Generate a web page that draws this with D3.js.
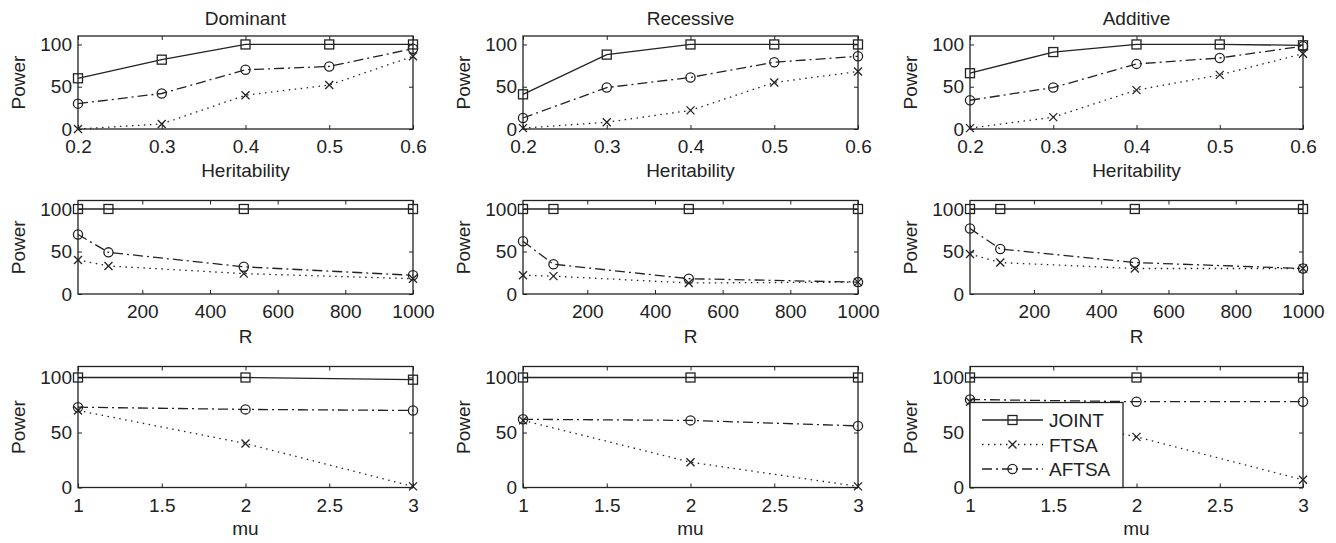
<!DOCTYPE html>
<html>
<head>
<meta charset="utf-8">
<script src="https://cdn.jsdelivr.net/npm/d3@7"></script>
<style>
  body { margin: 0; background: #fff; }
  svg { display: block; }
  text { font-family: "Liberation Sans", Arial, sans-serif; fill: #222; }
  .frame { fill: none; stroke: #222; stroke-width: 1.3; }
  .tick line { stroke: #222; }
</style>
</head>
<body>
<svg id="chart" width="1336" height="543"></svg>
<script>
// ---- data ----
var models = ["Dominant", "Recessive", "Additive"];
var seriesNames = ["JOINT", "FTSA", "AFTSA"];

var heritability = [0.2, 0.3, 0.4, 0.5, 0.6];
var heritTicks = [0.2, 0.3, 0.4, 0.5, 0.6];
var heritJoint = [[60, 82, 100, 100, 100], [41, 88, 100, 100, 100], [66, 91, 100, 100, 99]];
var heritFtsa  = [[0, 6, 40, 52, 86], [1, 8, 22, 55, 68], [1, 14, 46, 64, 89]];
var heritAftsa = [[30, 42, 70, 74, 95], [13, 49, 61, 79, 86], [34, 49, 77, 84, 98]];

var rValues = [10, 100, 500, 1000];
var rTicks = [200, 400, 600, 800, 1000];
var rJoint = [[100, 100, 100, 100], [100, 100, 100, 100], [100, 100, 100, 100]];
var rFtsa  = [[40, 33, 24, 18], [22, 21, 13, 14], [47, 37, 30, 30]];
var rAftsa = [[70, 49, 32, 22], [62, 35, 18, 14], [77, 53, 37, 30]];

var muValues = [1, 2, 3];
var muTicks = [1, 1.5, 2, 2.5, 3];
var muJoint = [[100, 100, 98], [100, 100, 100], [100, 100, 100]];
var muFtsa  = [[70, 40, 1], [61, 23, 1], [78, 46, 7]];
var muAftsa = [[73, 71, 70], [62, 61, 56], [80, 78, 78]];

var powerTicks = [0, 50, 100];

// ---- layout ----
var colLeft = [78, 523, 970];
var colWidth = [335, 335, 333];
var rowTop = [36, 200.5, 366.5];
var rowBottom = [129, 294, 487.5];

var rows = [
  { xs: heritability, ticks: heritTicks, dom: [0.2, 0.6], label: "Heritability", joint: heritJoint, ftsa: heritFtsa, aftsa: heritAftsa },
  { xs: rValues, ticks: rTicks, dom: [10, 1000], label: "R", joint: rJoint, ftsa: rFtsa, aftsa: rAftsa },
  { xs: muValues, ticks: muTicks, dom: [1, 3], label: "mu", joint: muJoint, ftsa: muFtsa, aftsa: muAftsa }
];

var styles = {
  JOINT: { dash: null, marker: "square" },
  FTSA:  { dash: "1.5,4.5", marker: "cross" },
  AFTSA: { dash: "10,4,2,4", marker: "circle" }
};

var svg = d3.select("#chart");
var fs = 19;

function drawMarker(g, type, x, y) {
  if (type === "square") {
    g.append("rect").attr("x", x - 4.5).attr("y", y - 4.5).attr("width", 9).attr("height", 9)
      .attr("fill", "none").attr("stroke", "#222").attr("stroke-width", 1.3);
  } else if (type === "circle") {
    g.append("circle").attr("cx", x).attr("cy", y).attr("r", 4.6)
      .attr("fill", "none").attr("stroke", "#222").attr("stroke-width", 1.3);
  } else {
    g.append("path").attr("d", "M" + (x - 4) + "," + (y - 4) + "L" + (x + 4) + "," + (y + 4) +
      "M" + (x - 4) + "," + (y + 4) + "L" + (x + 4) + "," + (y - 4))
      .attr("fill", "none").attr("stroke", "#222").attr("stroke-width", 1.3);
  }
}

rows.forEach(function (row, ri) {
  models.forEach(function (model, ci) {
    var left = colLeft[ci], w = colWidth[ci];
    var top = rowTop[ri], bottom = rowBottom[ri];
    var x = d3.scaleLinear().domain(row.dom).range([left, left + w]);
    var y = d3.scaleLinear().domain([0, 110]).range([bottom, top]);
    var g = svg.append("g");

    // ticks (inward, all four sides)
    g.append("g").attr("transform", "translate(0," + bottom + ")")
      .call(d3.axisBottom(x).tickValues(row.ticks).tickSize(-4).tickPadding(11).tickFormat(d3.format("")))
      .call(function (a) { a.select(".domain").remove(); });
    g.append("g").attr("transform", "translate(0," + top + ")")
      .call(d3.axisTop(x).tickValues(row.ticks).tickSize(-4).tickFormat(""))
      .call(function (a) { a.select(".domain").remove(); });
    g.append("g").attr("transform", "translate(" + left + ",0)")
      .call(d3.axisLeft(y).tickValues(powerTicks).tickSize(-4).tickPadding(6))
      .call(function (a) { a.select(".domain").remove(); });
    g.append("g").attr("transform", "translate(" + (left + w) + ",0)")
      .call(d3.axisRight(y).tickValues(powerTicks).tickSize(-4).tickFormat(""))
      .call(function (a) { a.select(".domain").remove(); });
    g.selectAll(".tick text").attr("font-size", fs).attr("fill", "#222")
      .attr("font-family", "'Liberation Sans', Arial, sans-serif");

    g.append("rect").attr("class", "frame")
      .attr("x", left).attr("y", top).attr("width", w).attr("height", bottom - top);

    // series
    var sets = { JOINT: row.joint[ci], FTSA: row.ftsa[ci], AFTSA: row.aftsa[ci] };
    ["FTSA", "AFTSA", "JOINT"].forEach(function (name) {
      var vals = sets[name];
      var line = d3.line().x(function (d, i) { return x(row.xs[i]); }).y(function (d) { return y(d); });
      g.append("path").datum(vals).attr("d", line)
        .attr("fill", "none").attr("stroke", "#222").attr("stroke-width", 1.3)
        .attr("stroke-dasharray", styles[name].dash);
      vals.forEach(function (v, i) { drawMarker(g, styles[name].marker, x(row.xs[i]), y(v)); });
    });

    // labels
    var cy = (top + bottom) / 2;
    g.append("text").attr("x", left - 53).attr("y", cy)
      .attr("transform", "rotate(-90," + (left - 53) + "," + cy + ")")
      .attr("text-anchor", "middle").attr("font-size", fs).text("Power");
    var labelY = [177, 343, 535][ri];
    g.append("text").attr("x", left + w / 2).attr("y", labelY).attr("text-anchor", "middle")
      .attr("font-size", fs).text(row.label);
    if (ri === 0) {
      g.append("text").attr("x", left + w / 2).attr("y", 25).attr("text-anchor", "middle")
        .attr("font-size", fs).text(model);
    }

    // legend in the last panel
    if (ri === 2 && ci === 2) {
      var lg = svg.append("g").attr("transform", "translate(" + left + "," + 402.5 + ")");
      lg.append("rect").attr("width", 153).attr("height", bottom - 402.5)
        .attr("fill", "#fff").attr("stroke", "#222").attr("stroke-width", 1.3);
      seriesNames.forEach(function (name, k) {
        var ly = 17.5 + k * 24.5;
        lg.append("line").attr("x1", 12).attr("x2", 73).attr("y1", ly).attr("y2", ly)
          .attr("stroke", "#222").attr("stroke-width", 1.3).attr("stroke-dasharray", styles[name].dash);
        drawMarker(lg, styles[name].marker, 42.5, ly);
        lg.append("text").attr("x", 79).attr("y", ly + 7).attr("font-size", fs).text(name);
      });
    }
  });
});
</script>
</body>
</html>
